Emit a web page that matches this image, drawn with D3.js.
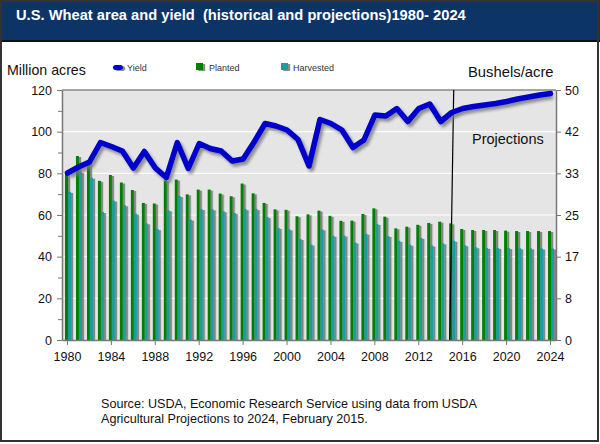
<!DOCTYPE html>
<html><head><meta charset="utf-8">
<script src="https://cdn.jsdelivr.net/npm/d3@7"></script>
<style>body{margin:0;background:#fff}svg{display:block;font-family:"Liberation Sans",Arial,sans-serif}</style>
</head><body><svg id="c" width="600" height="444"></svg>
<script>
const years = d3.range(1980, 2025);
const planted = [80.8,88.3,86.2,76.4,79.2,75.6,72.0,65.8,65.5,76.6,77.0,69.9,72.2,72.2,70.3,69.0,75.1,70.4,65.8,62.7,62.5,59.4,60.3,62.1,59.6,57.2,57.3,60.5,63.2,59.2,53.6,54.4,55.3,56.2,56.8,56.0,53.3,52.8,52.8,52.8,52.5,52.3,52.3,52.3,52.3];
const harvested = [71.1,80.6,77.9,61.4,66.9,64.7,60.7,56.0,53.2,62.2,69.1,57.8,62.8,62.7,61.8,61.0,62.8,62.8,59.0,53.8,53.1,48.5,45.8,53.1,50.0,50.1,46.8,51.0,55.7,49.9,47.6,45.7,49.0,45.3,46.4,47.6,45.5,44.5,44.2,44.2,44.1,44.0,44.0,43.9,43.9];
const yieldV = [33.4,34.6,35.6,39.5,38.7,37.8,34.4,37.7,34.4,32.5,39.5,34.3,39.3,38.3,37.8,35.8,36.2,39.6,43.3,42.8,42.0,40.1,34.8,44.1,43.3,42.0,38.5,40.0,45.0,44.8,46.3,43.7,46.3,47.2,43.7,45.5,46.3,46.7,47.0,47.3,47.7,48.2,48.6,49.0,49.3];
const leftTicks = [0,20,40,60,80,100,120];
const rightTicks = [0,8,17,25,33,42,50];
const xTickYears = d3.range(1980, 2025, 4);
const projectionStart = 2015;

const svg = d3.select("#c");
const L=62, R=556, T=90, B=340;
const x = d3.scaleBand().domain(years).range([L,R]);
const yL = d3.scaleLinear().domain([0,120]).range([B,T]);
const yR = d3.scaleLinear().domain([0,50]).range([B,T]);
const cx = d => x(d)+x.bandwidth()/2;

const defs = svg.append("defs");
const f1 = defs.append("filter").attr("id","bs").attr("x","-50%").attr("y","-10%").attr("width","250%").attr("height","130%");
f1.append("feDropShadow").attr("dx",2.2).attr("dy",1).attr("stdDeviation",0.7).attr("flood-color","#666").attr("flood-opacity",0.75);
const f2 = defs.append("filter").attr("id","ls").attr("x","-10%").attr("y","-20%").attr("width","120%").attr("height","140%");
f2.append("feGaussianBlur").attr("stdDeviation",1.4);

// frame
svg.append("rect").attr("x",0).attr("y",0).attr("width",600).attr("height",444).attr("fill","#fff");
svg.append("rect").attr("x",0).attr("y",0).attr("width",600).attr("height",40).attr("fill","#0c3467");
svg.append("rect").attr("x",0).attr("y",40).attr("width",600).attr("height",2).attr("fill","#111");
svg.append("rect").attr("x",1).attr("y",1).attr("width",597).attr("height",440).attr("fill","none").attr("stroke","#333").attr("stroke-width",2);
svg.append("text").attr("x",16).attr("y",20).attr("fill","#fff").attr("font-weight","bold").attr("font-size",14.7)
  .attr("xml:space","preserve").text("U.S. Wheat area and yield  (historical and projections)1980- 2024");

// plot bg
svg.append("rect").attr("x",L).attr("y",T).attr("width",R-L).attr("height",B-T).attr("fill","#e5e5e5");
svg.append("g").selectAll("line").data(leftTicks.slice(1,-1)).join("line")
  .attr("x1",L).attr("x2",R).attr("y1",d=>yL(d)).attr("y2",d=>yL(d)).attr("stroke","#fff").attr("stroke-width",1.2);
svg.append("line").attr("x1",L).attr("x2",R).attr("y1",T).attr("y2",T).attr("stroke","#888").attr("stroke-width",1.5);

// bars
const bw = 3;
svg.append("g").attr("filter","url(#bs)").selectAll("rect").data(years).join("rect")
  .attr("x",d=>cx(d)-2.5).attr("width",bw).attr("y",(d,i)=>yL(planted[i])).attr("height",(d,i)=>B-yL(planted[i])).attr("fill","#008000");
svg.append("g").attr("filter","url(#bs)").selectAll("rect").data(years).join("rect")
  .attr("x",d=>cx(d)+0.5).attr("width",bw).attr("y",(d,i)=>yL(harvested[i])).attr("height",(d,i)=>B-yL(harvested[i])).attr("fill","#1a9c9f");

// projection line
svg.append("line").attr("x1",cx(projectionStart)+2).attr("x2",cx(projectionStart)-2).attr("y1",T).attr("y2",B).attr("stroke","#000").attr("stroke-width",1.2);
svg.append("text").attr("x",472).attr("y",144).attr("font-size",14.5).attr("fill","#111").text("Projections");

// yield line
const line = d3.line().x((d,i)=>cx(years[i])).y(d=>yR(d));
svg.append("path").datum(yieldV).attr("d",line).attr("fill","none").attr("stroke","#777").attr("stroke-opacity",0.8)
  .attr("stroke-width",5.5).attr("stroke-linejoin","round").attr("transform","translate(2.5,3)").attr("filter","url(#ls)");
svg.append("path").datum(yieldV).attr("d",line).attr("fill","none").attr("stroke","#0000cc")
  .attr("stroke-width",5.5).attr("stroke-linejoin","round").attr("stroke-linecap","round");

// axes
const ax = svg.append("g").attr("transform",`translate(0,${B})`)
  .call(d3.axisBottom(x).tickValues(xTickYears).tickSize(5).tickSizeOuter(0));
ax.select(".domain").attr("stroke","#777").attr("stroke-width",1.5);
ax.selectAll(".tick line").attr("stroke","#777");
ax.selectAll("text").attr("font-size",12.5).attr("fill","#111").attr("dy","1.05em").attr("font-family","Liberation Sans, Arial");

const ayMinor = svg.append("g").attr("transform",`translate(${L},0)`)
  .call(d3.axisLeft(yL).tickValues(d3.range(10,120,20)).tickSize(4).tickFormat(""));
ayMinor.select(".domain").remove();
ayMinor.selectAll(".tick line").attr("stroke","#777");
const ay = svg.append("g").attr("transform",`translate(${L},0)`)
  .call(d3.axisLeft(yL).tickValues(leftTicks).tickSize(5).tickSizeOuter(0).tickPadding(5));
ay.select(".domain").attr("stroke","#777").attr("stroke-width",1.5);
ay.selectAll(".tick line").attr("stroke","#777");
ay.selectAll("text").attr("font-size",12.5).attr("fill","#111").attr("font-family","Liberation Sans, Arial");

const ayr = svg.append("g").attr("transform",`translate(${R},0)`)
  .call(d3.axisRight(yR).tickValues(rightTicks.map((v,i)=>i*50/6)).tickSize(5).tickSizeOuter(0).tickPadding(4).tickFormat((d,i)=>rightTicks[i]));
ayr.select(".domain").attr("stroke","#777").attr("stroke-width",1.5);
ayr.selectAll(".tick line").attr("stroke","#777");
ayr.selectAll("text").attr("font-size",12.5).attr("fill","#111").attr("font-family","Liberation Sans, Arial");

// axis titles
svg.append("text").attr("x",7).attr("y",75).attr("font-size",14.2).attr("fill","#111").text("Million acres");
svg.append("text").attr("x",468).attr("y",77).attr("font-size",14.8).attr("fill","#111").text("Bushels/acre");

// legend
const lg = svg.append("g").attr("font-size",9).attr("fill","#333");
lg.append("rect").attr("x",113).attr("y",65).attr("width",10).attr("height",5).attr("rx",2.5).attr("fill","#0000cc").attr("filter","url(#bs)");
lg.append("text").attr("x",127).attr("y",71).text("Yield");
lg.append("rect").attr("x",196).attr("y",63).attr("width",7).attr("height",7).attr("fill","#008000").attr("filter","url(#bs)");
lg.append("text").attr("x",209).attr("y",71).text("Planted");
lg.append("rect").attr("x",281).attr("y",63).attr("width",7).attr("height",7).attr("fill","#1a9c9f").attr("filter","url(#bs)");
lg.append("text").attr("x",293).attr("y",71).text("Harvested");

// source
const src = svg.append("text").attr("font-size",12.6).attr("fill","#111");
src.append("tspan").attr("x",101).attr("y",408).text("Source: USDA, Economic Research Service using data from USDA");
src.append("tspan").attr("x",101).attr("y",423).text("Agricultural Projections to 2024, February 2015.");
</script></body></html>
